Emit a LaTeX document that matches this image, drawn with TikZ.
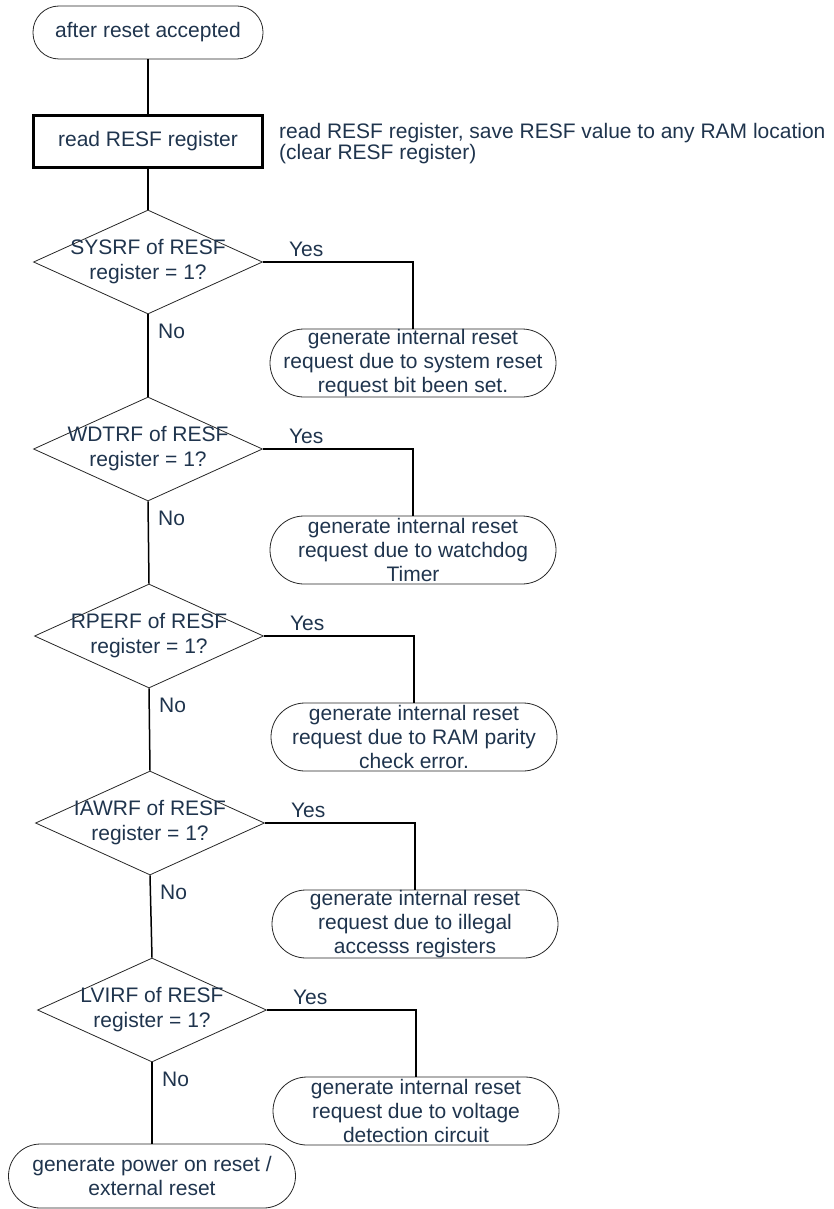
\documentclass[tikz,border=0pt]{standalone}
\usepackage{fontspec}
\setmainfont{Liberation Sans}
\usepackage{xcolor}
\usetikzlibrary{arrows.meta,positioning,shapes.geometric}
\definecolor{txtblue}{RGB}{31,52,77}

\begin{document}
\begin{tikzpicture}[
  x=1pt, y=1pt,
  every node/.style={text=txtblue, font=\fontsize{21}{24}\selectfont},
  term/.style={rectangle, draw=black!85, line width=0.8pt, rounded corners=34pt,
               minimum width=286pt, minimum height=68pt, inner sep=0pt, align=center},
  procbox/.style={rectangle, draw=black, line width=3pt, minimum width=229pt,
                  minimum height=52pt, inner sep=0pt, align=center},
  decision/.style={diamond, draw=black!85, line width=0.8pt, minimum width=229pt,
                   minimum height=104pt, inner sep=0pt},
  dtext/.style={inner sep=0pt, align=center, font=\fontsize{21}{25}\selectfont},
  lbl/.style={inner sep=0pt},
  note/.style={inner sep=0pt, align=left, font=\fontsize{21}{16}\selectfont},
  line/.style={draw=black, line width=1.5pt}
]
  \useasboundingbox (0,0) rectangle (834,-1209);

  \node[term, rounded corners=26pt, minimum width=230pt, minimum height=53pt] (start) at (148,-32.5) {after reset accepted};
  \node[procbox] (readbox) at (148,-141.5) {read RESF register};
  \node[note, right=15pt of readbox, yshift=-2pt] (readnote) {read RESF register, save RESF value to any RAM location\\(clear RESF register)};

  \node[decision] (sysrf) at (148,-262) {};
  \node[dtext] (sysrft) at (sysrf) {SYSRF of RESF\\register = 1?};
  \node[term] (sysreset) at (413,-363) {generate internal reset\\request due to system reset\\request bit been set.};

  \node[decision] (wdtrf) at (148,-449) {};
  \node[dtext] (wdtrft) at (wdtrf) {WDTRF of RESF\\register = 1?};
  \node[term] (wdtreset) at (413,-550) {generate internal reset\\request due to watchdog\\Timer};

  \node[decision] (rperf) at (149,-636) {};
  \node[dtext] (rperft) at (rperf) {RPERF of RESF\\register = 1?};
  \node[term] (rpereset) at (414,-737) {generate internal reset\\request due to RAM parity\\check error.};

  \node[decision] (iawrf) at (150,-823) {};
  \node[dtext] (iawrft) at (iawrf) {IAWRF of RESF\\register = 1?};
  \node[term] (iawreset) at (415,-924) {generate internal reset\\request due to illegal\\accesss registers};

  \node[decision] (lvirf) at (152,-1010) {};
  \node[dtext] (lvirft) at (lvirf) {LVIRF of RESF\\register = 1?};
  \node[term] (lvireset) at (416,-1111) {generate internal reset\\request due to voltage\\detection circuit};

  \node[term, rounded corners=32pt, minimum width=287pt, minimum height=64pt] (porreset) at (152,-1176) {generate power on reset /\\external reset};

  \draw[line] (start) -- (readbox);
  \draw[line] (readbox) -- (sysrf.north);
  \draw[line] (sysrf.south) -- (wdtrf.north);
  \draw[line] (wdtrf.south) -- (rperf.north);
  \draw[line] (rperf.south) -- (iawrf.north);
  \draw[line] (iawrf.south) -- (lvirf.north);
  \draw[line] (lvirf.south) -- (porreset.north);

  \draw[line] (sysrf.east) -| (sysreset.north);
  \draw[line] (wdtrf.east) -| (wdtreset.north);
  \draw[line] (rperf.east) -| (rpereset.north);
  \draw[line] (iawrf.east) -| (iawreset.north);
  \draw[line] (lvirf.east) -| (lvireset.north);

  % yes / no labels
  \node[lbl, above right=5pt and 26pt of sysrf.east] (sysyes) {Yes};
  \node[lbl, above right=5pt and 26pt of wdtrf.east] (wdtyes) {Yes};
  \node[lbl, above right=5pt and 26pt of rperf.east] (rpeyes) {Yes};
  \node[lbl, above right=5pt and 26pt of iawrf.east] (iawyes) {Yes};
  \node[lbl, above right=5pt and 26pt of lvirf.east] (lviyes) {Yes};
  \node[lbl, below right=9pt and 10pt of sysrf.south] (sysno) {No};
  \node[lbl, below right=9pt and 10pt of wdtrf.south] (wdtno) {No};
  \node[lbl, below right=9pt and 10pt of rperf.south] (rpeno) {No};
  \node[lbl, below right=9pt and 10pt of iawrf.south] (iawno) {No};
  \node[lbl, below right=9pt and 10pt of lvirf.south] (lvino) {No};
\end{tikzpicture}
\end{document}
